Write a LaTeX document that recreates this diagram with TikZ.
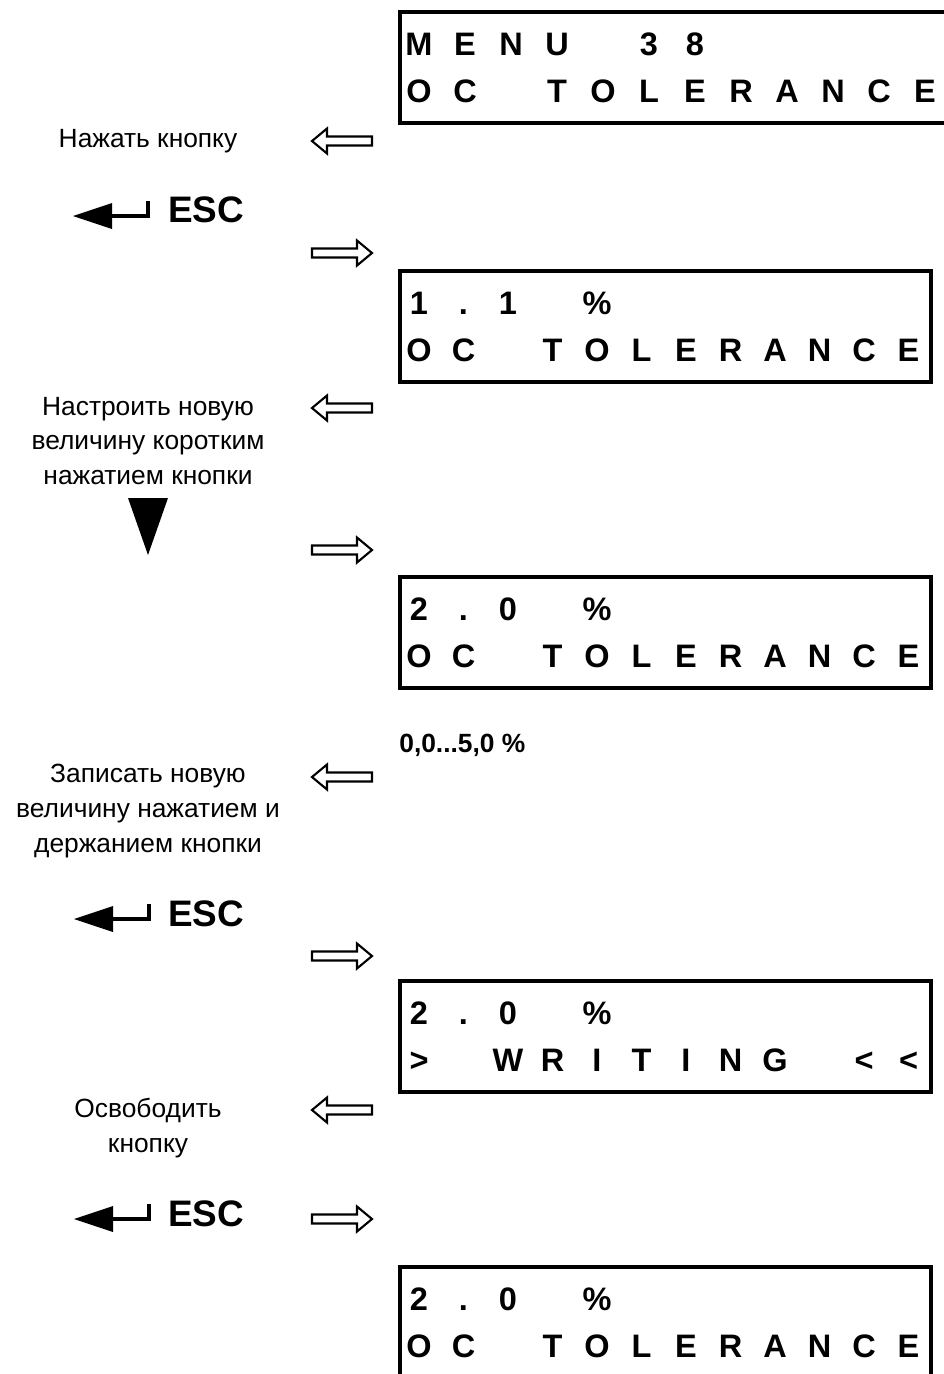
\documentclass[tikz,border=0pt]{standalone}
\usepackage{fontspec}
\setmainfont{Liberation Sans}
\usetikzlibrary{calc}

\begin{document}
\begin{tikzpicture}[x=0.02cm, y=-0.02cm,
    lcd/.style={draw, line width=2.3pt, outer sep=0pt, inner sep=0pt, anchor=north west,
      minimum width=10.62cm, minimum height=2.22cm},
    ch/.style={anchor=base, inner sep=0pt, font=\bfseries\fontsize{18.5}{22}\selectfont},
    lbl/.style={align=center, inner sep=0pt, font=\fontsize{15}{19.8}\selectfont},
    esc/.style={anchor=west, inner sep=0pt, font=\bfseries\fontsize{21}{24}\selectfont},
    larr/.pic={\draw[line width=1.2pt] (-30,0) -- (-15,-12.5) -- (-15,-4.5) -- (30,-4.5)
      -- (30,4.5) -- (-15,4.5) -- (-15,12.5) -- cycle;},
    rarr/.pic={\draw[line width=1.2pt] (30,0) -- (15,-12.5) -- (15,-4.5) -- (-30,-4.5)
      -- (-30,4.5) -- (15,4.5) -- (15,12.5) -- cycle;},
    enterkey/.pic={\fill (0,0) -- (39,-13) -- (39,13) -- cycle;
      \fill (37,-2) rectangle (77,2);
      \fill (73,-15) rectangle (77,2);}]
    \useasboundingbox (0,0) rectangle (944,1374);
    \clip (0,0) rectangle (944,1374);

    % displays
    \node[lcd, minimum width=11.2cm] (d1) at (400,12) {};
    \node[lcd] (d2) at (400,271) {};
    \node[lcd] (d3) at (400,577) {};
    \node[lcd] (d4) at (400,981) {};
    \node[lcd, minimum height=3cm] (d5) at (400,1267) {};

    \foreach \c [count=\i] in {M,E,N,U,{},3,8}
      \node[ch] (d1a\i) at ($(d1.north west)+(19+46*\i-46,43)$) {\c};
    \foreach \c [count=\i] in {O,C,{},T,O,L,E,R,A,N,C,E}
      \node[ch] (d1b\i) at ($(d1.north west)+(19+46*\i-46,90)$) {\c};

    \foreach \c [count=\i] in {1,{.},1,{},{\%}}
      \node[ch] (d2a\i) at ($(d2.north west)+(19+44.5*\i-44.5,43)$) {\c};
    \foreach \c [count=\i] in {O,C,{},T,O,L,E,R,A,N,C,E}
      \node[ch] (d2b\i) at ($(d2.north west)+(19+44.5*\i-44.5,90)$) {\c};

    \foreach \c [count=\i] in {2,{.},0,{},{\%}}
      \node[ch] (d3a\i) at ($(d3.north west)+(19+44.5*\i-44.5,43)$) {\c};
    \foreach \c [count=\i] in {O,C,{},T,O,L,E,R,A,N,C,E}
      \node[ch] (d3b\i) at ($(d3.north west)+(19+44.5*\i-44.5,90)$) {\c};

    \foreach \c [count=\i] in {2,{.},0,{},{\%}}
      \node[ch] (d4a\i) at ($(d4.north west)+(19+44.5*\i-44.5,43)$) {\c};
    \foreach \c [count=\i] in {>,{},W,R,I,T,I,N,G,{},<,<}
      \node[ch] (d4b\i) at ($(d4.north west)+(19+44.5*\i-44.5,90)$) {\c};

    \foreach \c [count=\i] in {2,{.},0,{},{\%}}
      \node[ch] (d5a\i) at ($(d5.north west)+(19+44.5*\i-44.5,43)$) {\c};
    \foreach \c [count=\i] in {O,C,{},T,O,L,E,R,A,N,C,E}
      \node[ch] (d5b\i) at ($(d5.north west)+(19+44.5*\i-44.5,90)$) {\c};

    % instructions
    \node[lbl] (t1) at (148,141) {Нажать кнопку};
    \node[lbl] (t2) at (148,441) {Настроить новую\\величину коротким\\нажатием кнопки};
    \node[lbl] (t3) at (148,811) {Записать новую\\величину нажатием и\\держанием кнопки};
    \node[lbl] (t4) at (148,1128) {Освободить\\кнопку};
    \node[anchor=west, inner sep=0pt, font=\bfseries\fontsize{15}{18}\selectfont] (rng) at (399,745) {0,0...5,0 \%};

    % keys
    \pic at (73,216) {enterkey};
    \node[esc] (k1) at (168,210) {ESC};
    \pic at (74,919) {enterkey};
    \node[esc] (k2) at (168,914) {ESC};
    \pic at (74,1219) {enterkey};
    \node[esc] (k3) at (168,1214) {ESC};
    \fill (128,498) -- (168,498) -- (148,555) -- cycle;

    % hollow arrows
    \pic at (342,141) {larr};
    \pic at (342,253) {rarr};
    \pic at (342,408) {larr};
    \pic at (342,550) {rarr};
    \pic at (342,777) {larr};
    \pic at (342,956) {rarr};
    \pic at (342,1110) {larr};
    \pic at (342,1219) {rarr};
\end{tikzpicture}
\end{document}
